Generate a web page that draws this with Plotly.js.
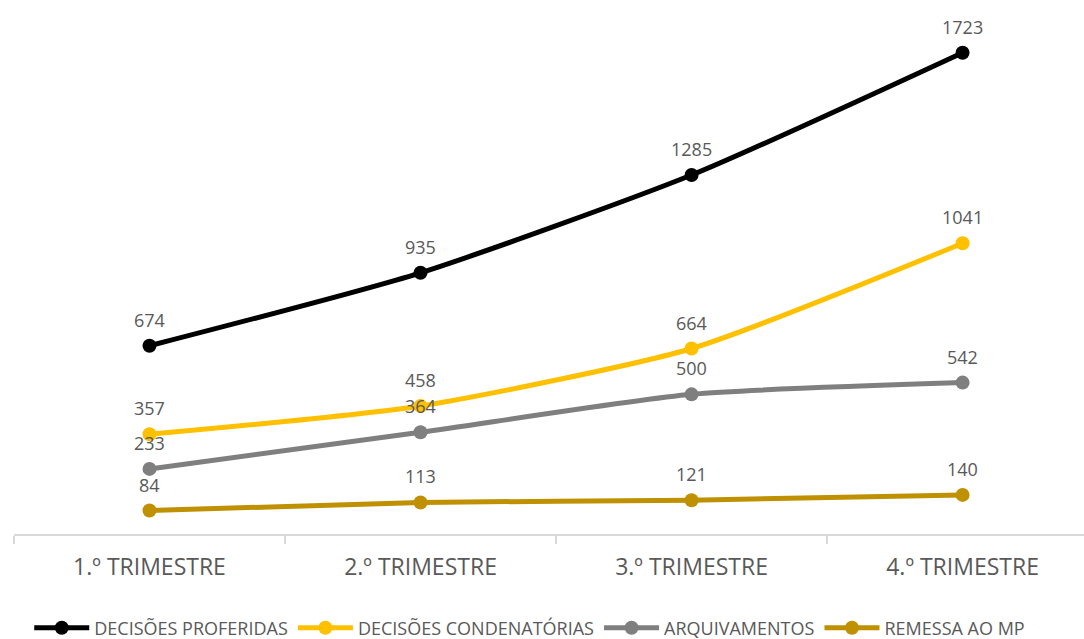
<!DOCTYPE html>
<html>
<head>
<meta charset="utf-8">
<script src="https://cdn.plot.ly/plotly-3.0.1.min.js"></script>
<style>html,body{margin:0;padding:0;background:#fff;}#chart{width:1084px;height:639px;}</style>
</head>
<body>
<div id="chart"></div>
<script>
const categories = ["1.º TRIMESTRE", "2.º TRIMESTRE", "3.º TRIMESTRE", "4.º TRIMESTRE"];
const seriesNames = ["DECISÕES PROFERIDAS", "DECISÕES CONDENATÓRIAS", "ARQUIVAMENTOS", "REMESSA AO MP"];
const decisoesProferidas = [674, 935, 1285, 1723];
const decisoesCondenatorias = [357, 458, 664, 1041];
const arquivamentos = [233, 364, 500, 542];
const remessaMP = [84, 113, 121, 140];
const seriesValues = [decisoesProferidas, decisoesCondenatorias, arquivamentos, remessaMP];
const colors = ["#000000", "#FFC000", "#7F7F7F", "#BF9000"];

const FONT = "'Open Sans', sans-serif";

const traces = seriesValues.map((vals, i) => ({
  type: "scatter",
  mode: "lines+markers",
  name: seriesNames[i],
  x: categories,
  y: vals,
  line: {color: colors[i], width: 5, shape: "spline", smoothing: 0.6},
  marker: {color: colors[i], size: 14},
  hoverinfo: "skip"
}));

const annotations = [];
seriesValues.forEach((vals, i) => {
  vals.forEach((v, j) => {
    annotations.push({
      x: categories[j], y: v, xref: "x", yref: "y",
      text: String(v), showarrow: false, yshift: 26,
      font: {family: FONT, size: 18, color: "#595959"}
    });
  });
});

const layout = {
  width: 1084, height: 639,
  margin: {l: 14, r: 0, t: 20, b: 105, autoexpand: false},
  paper_bgcolor: "#ffffff", plot_bgcolor: "#ffffff",
  showlegend: true,
  legend: {
    orientation: "h", x: 0.482, xanchor: "center", y: -0.183, yanchor: "middle",
    font: {family: FONT, size: 18, color: "#595959"},
    itemwidth: 55, tracegroupgap: 0
  },
  xaxis: {
    type: "category",
    range: [-0.5, 3.448],
    showgrid: false, zeroline: false,
    showline: true, linecolor: "#D9D9D9", linewidth: 1.5,
    ticks: "outside", tickson: "boundaries", ticklen: 8, tickcolor: "#D9D9D9", tickwidth: 1.5,
    ticklabelstandoff: 12,
    tickfont: {family: FONT, size: 23, color: "#595959"},
    fixedrange: true
  },
  yaxis: {
    range: [0, 1840],
    showgrid: false, zeroline: false, showline: false,
    showticklabels: false, ticks: "",
    fixedrange: true
  },
  annotations: annotations
};

Plotly.newPlot("chart", traces, layout, {displayModeBar: false, staticPlot: true});
</script>
</body>
</html>
